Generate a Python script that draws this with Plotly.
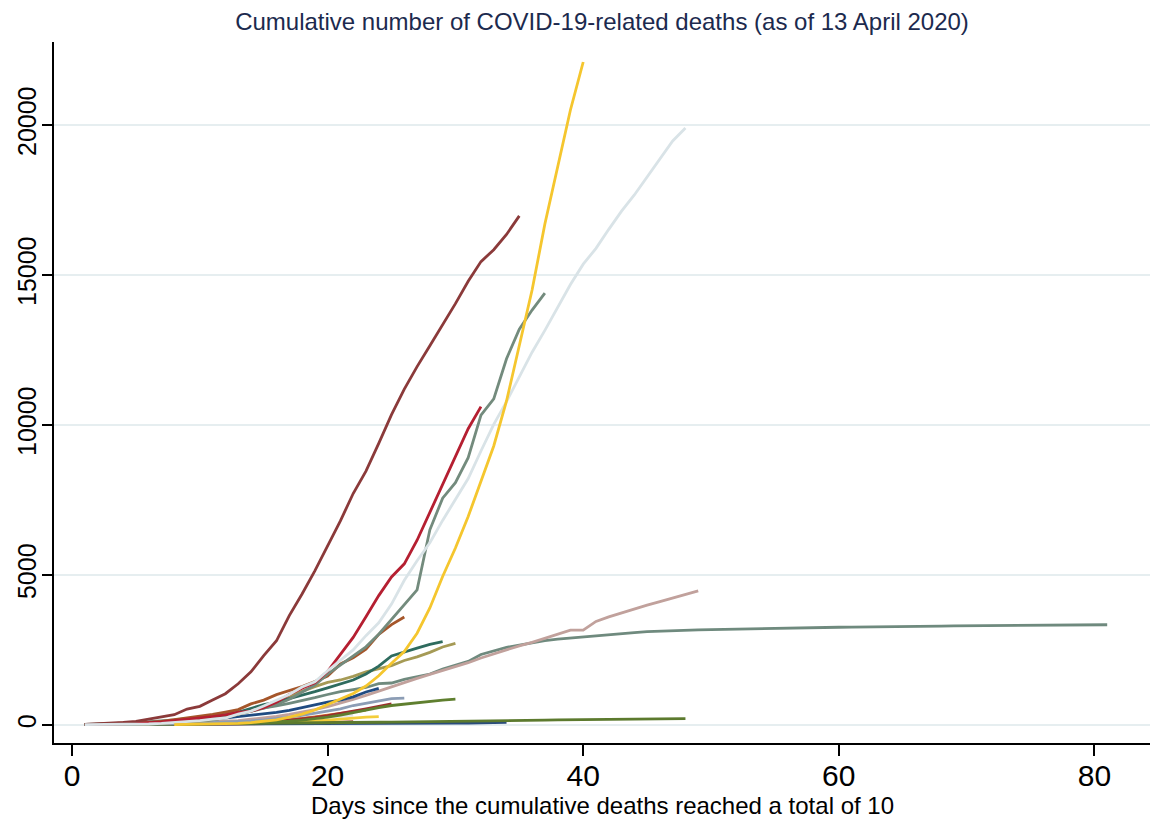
import plotly.graph_objects as go

# ---------------- data (days since 10 deaths, cumulative deaths) ----------------
spain_start = 1
spain = [17, 35, 54, 84, 121, 195, 288, 342, 533, 623, 830, 1043, 1375, 1772, 2311, 2808,
         3647, 4365, 5138, 5982, 6803, 7716, 8464, 9387, 10348, 11198, 11947, 12641, 13341,
         14045, 14792, 15447, 15843, 16353, 16972]

italy_start = 1
italy = [11, 12, 17, 21, 29, 34, 52, 79, 107, 148, 197, 233, 366, 463, 631, 827, 1016, 1266,
         1441, 1809, 2158, 2503, 2978, 3405, 4032, 4825, 5476, 6077, 6820, 7503, 8215, 9134,
         10023, 10779, 11591, 12428, 13155, 13915, 14681, 15362, 15887, 16523, 17127, 17669,
         18279, 18849, 19468, 19899]

us_start = 8
us = [15, 20, 25, 35, 45, 55, 80, 120, 170, 260, 360, 500, 680, 850, 1050, 1300, 1640, 2060,
      2450, 3060, 3900, 4950, 5900, 6950, 8100, 9300, 10800, 12600, 14500, 16700, 18600,
      20500, 22100]

uk_start = 1
uk = [10, 10, 21, 35, 55, 71, 104, 144, 177, 233, 281, 335, 422, 465, 578, 759, 1019, 1228,
      1408, 1789, 2352, 2921, 3605, 4313, 4934, 5373, 6159, 7097, 7978, 8958, 9875, 10612]

france_start = 1
france = [16, 19, 25, 33, 48, 48, 79, 91, 127, 148, 175, 244, 372, 450, 562, 674, 860, 1100,
          1331, 1696, 1995, 2314, 2606, 3024, 3523, 4032, 4503, 6507, 7560, 8078, 8911, 10328,
          10869, 12210, 13197, 13832, 14393]

china_start = 1
china = [17, 25, 41, 56, 80, 106, 132, 170, 213, 259,
         304, 362, 426, 492, 565, 638, 724, 813, 910, 1017,
         1114, 1180, 1250, 1380, 1400, 1520, 1600, 1700, 1860, 2000,
         2120, 2350, 2470, 2590, 2660, 2740, 2810, 2860, 2900, 2930,
         2960, 3000, 3040, 3080, 3110, 3130, 3145, 3160, 3170, 3180,
         3190, 3199, 3206, 3213, 3226, 3237, 3245, 3249, 3253, 3259,
         3261, 3270, 3276, 3281, 3285, 3291, 3296, 3299, 3304, 3308,
         3309, 3316, 3322, 3326, 3330, 3333, 3335, 3337, 3339, 3340, 3341]

iran_start = 1
iran = [12, 16, 19, 26, 34, 43, 54, 66, 77, 92, 107, 124, 145, 194, 237, 291, 354, 429, 514,
        611, 724, 853, 988, 1135, 1284, 1433, 1556, 1685, 1812, 1934, 2077, 2234, 2378, 2517,
        2640, 2757, 2898, 3036, 3160, 3160, 3452, 3603, 3739, 3872, 3993, 4110, 4232, 4357, 4474]

korea_start = 1
korea = [10, 12, 13, 13, 16, 17, 28, 28, 35, 35, 42, 44, 50, 53, 54, 60, 66, 66, 72, 75, 75,
         81, 84, 91, 94, 102, 104, 111, 120, 126, 131, 139, 144, 152, 158, 162, 165, 169, 174,
         177, 183, 186, 192, 200, 204, 208, 211, 214]

belgium_start = 1
belgium = [14, 21, 37, 67, 75, 88, 122, 178, 220, 289, 353, 431, 513, 705, 828, 1011, 1143,
           1283, 1447, 1632, 2035, 2240, 2523, 3019, 3346, 3600]

netherlands_start = 1
netherlands = [12, 14, 20, 30, 43, 58, 76, 106, 136, 180, 215, 300, 420, 560, 680, 760, 870,
               980, 1110, 1240, 1380, 1500, 1700, 1960, 2300, 2420, 2560, 2690, 2780]

germany_start = 1
germany = [10, 13, 17, 24, 30, 40, 55, 75, 95, 130, 180, 250, 350, 460, 600, 780, 950, 1120,
           1280, 1420, 1500, 1620, 1770, 1880, 1980, 2150, 2270, 2420, 2600, 2720]

switzerland_start = 1
switzerland = [12, 15, 20, 28, 40, 55, 75, 100, 125, 150, 185, 230, 275, 310, 360, 420, 490,
               580, 680, 760, 830, 940, 1100, 1220]

sweden_start = 1
sweden = [10, 12, 15, 18, 22, 27, 33, 40, 50, 62, 78, 95, 115, 140, 170, 210, 260, 320, 390,
          460, 540, 650, 730, 820, 880, 899]

green30_start = 1
green30 = [10, 11, 12, 14, 16, 18, 20, 23, 27, 32, 38, 45, 55, 67, 82, 100, 125, 160, 200,
           260, 330, 420, 500, 580, 650, 700, 750, 790, 830, 860]

japan_start = 1
japan = [10, 11, 12, 13, 14, 15, 16, 17, 19, 21, 22, 24, 26, 28, 29, 31, 33, 35, 36, 38, 41,
         43, 45, 47, 49, 52, 55, 57, 60, 63, 66, 70, 80, 90]

darkred_start = 1
darkred = [10, 12, 14, 16, 19, 22, 26, 30, 36, 43, 52, 62, 75, 90, 110, 135, 165, 200, 250,
           310, 380, 460, 540, 620, 700]

orange_start = 1
orange = [10, 12, 15, 18, 22, 26, 31, 37, 44, 52, 62, 74, 88, 105, 125, 150, 180, 220, 270,
          330, 390, 440, 500]

whitish_start = 1
whitish = [10, 11, 13, 15, 17, 20, 23, 27, 32, 38, 45, 53, 62, 73, 86, 100, 130, 170, 210,
           250, 290, 330]

yellow2_start = 1
yellow2 = [10, 11, 12, 14, 16, 18, 21, 24, 28, 33, 38, 44, 51, 60, 70, 82, 96, 112, 130, 160,
           200, 240, 265, 280]

maroon2_start = 1
maroon2 = [10, 11, 12, 13, 15, 17, 19, 22, 25, 29, 33, 38, 44, 51, 60, 75, 100, 140, 180, 220]

sienna2_start = 1
sienna2 = [10, 10, 11, 12, 13, 14, 16, 18, 20, 22, 25, 28, 32, 36, 41, 47, 55, 65, 75, 85, 98, 110]

rose2_start = 1
rose2 = [10, 11, 12, 13, 14, 16, 18, 20, 22, 25, 28, 32, 37, 43, 50, 60, 72, 85, 100, 120]

x_ticks = [0, 20, 40, 60, 80]
x_tick_labels = ["0", "20", "40", "60", "80"]
y_ticks = [0, 5000, 10000, 15000, 20000]
y_tick_labels = ["0", "5000", "10000", "15000", "20000"]

title_text = "Cumulative number of COVID-19-related deaths (as of 13 April 2020)"
x_title = "Days since the cumulative deaths reached a total of 10"

# ---------------- styles (drawing order: first = bottom) ----------------
series = [
    ("rose2", rose2_start, rose2, "#c6a69f"),
    ("sienna2", sienna2_start, sienna2, "#a0532d"),
    ("maroon2", maroon2_start, maroon2, "#8e2b2b"),
    ("whitish", whitish_start, whitish, "#e4e8eb"),
    ("yellow2", yellow2_start, yellow2, "#f3cd3a"),
    ("orange", orange_start, orange, "#e5862c"),
    ("darkred", darkred_start, darkred, "#9b2e2e"),
    ("Japan", japan_start, japan, "#2a4d7c"),
    ("South Korea", korea_start, korea, "#5c7a2e"),
    ("China", china_start, china, "#6f8a7e"),
    ("Iran", iran_start, iran, "#c1a19c"),
    ("green30", green30_start, green30, "#5f7f2f"),
    ("Sweden", sweden_start, sweden, "#8c9db5"),
    ("Switzerland", switzerland_start, switzerland, "#1f4b82"),
    ("Germany", germany_start, germany, "#a59a55"),
    ("Netherlands", netherlands_start, netherlands, "#2e6b5e"),
    ("Belgium", belgium_start, belgium, "#a5562a"),
    ("France", france_start, france, "#738b7d"),
    ("United Kingdom", uk_start, uk, "#b51f31"),
    ("Spain", spain_start, spain, "#8b3a3a"),
    ("Italy", italy_start, italy, "#d9e3e7"),
    ("United States", us_start, us, "#f5c62e"),
]

fig = go.Figure()
for name, start, vals, color in series:
    days = list(range(start, start + len(vals)))
    fig.add_trace(go.Scatter(x=days, y=vals, mode="lines", name=name,
                             line=dict(color=color, width=2.8), showlegend=False))

FONT = "Liberation Sans, Arial, Helvetica, sans-serif"

fig.update_layout(
    width=1150, height=823,
    paper_bgcolor="white", plot_bgcolor="white",
    margin=dict(l=54, r=0, t=42, b=80, autoexpand=False),
    font=dict(family=FONT, color="black"),
    title=dict(text=title_text, x=0.5, xref="paper", xanchor="center",
               y=1 - 22 / 823, yref="container", yanchor="middle",
               font=dict(family=FONT, size=24, color="#1c2a4e")),
    xaxis=dict(range=[-1.41, 84.35], tickmode="array", tickvals=x_ticks,
               ticktext=x_tick_labels,
               ticks="outside", ticklen=11, tickwidth=1.5, tickcolor="black",
               ticklabelstandoff=-6,
               showline=True, linecolor="black", linewidth=1.5,
               showgrid=False, zeroline=False,
               tickfont=dict(family=FONT, size=30, color="black")),
    yaxis=dict(range=[-600, 22767], tickmode="array", tickvals=y_ticks,
               ticktext=y_tick_labels,
               tickangle=-90, ticks="outside", ticklen=10, tickwidth=1.5, tickcolor="black",
               ticklabelstandoff=-4,
               showline=True, linecolor="black", linewidth=1.5,
               showgrid=True, gridcolor="#e6eef0", gridwidth=2, zeroline=False,
               tickfont=dict(family=FONT, size=25, color="black")),
    annotations=[dict(text=x_title, xref="paper", yref="paper", x=0.5, y=(743 - 806) / 701,
                      xanchor="center", yanchor="middle", showarrow=False,
                      font=dict(family=FONT, size=24, color="black"))],
)

fig.write_html("out.html", config={"displayModeBar": False},
               post_script="document.body.style.margin='0px';")
